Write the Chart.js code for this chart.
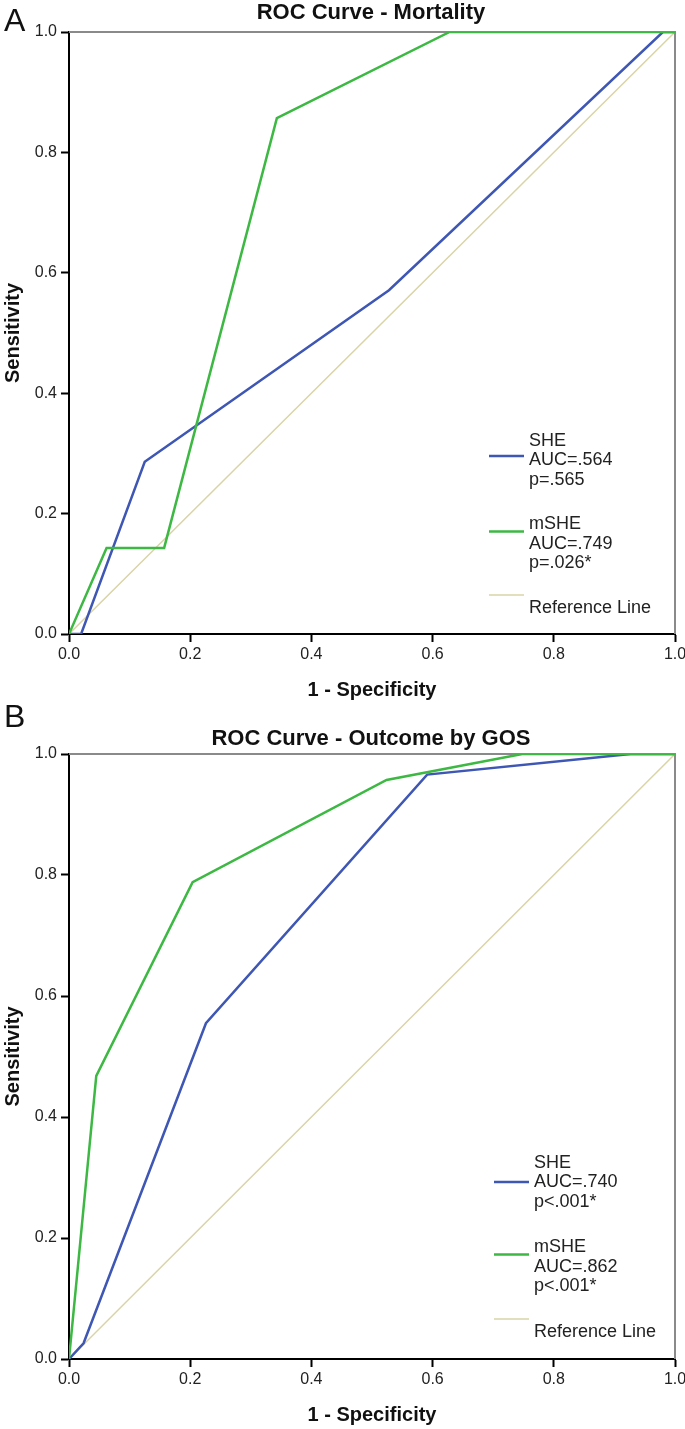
<!DOCTYPE html>
<html>
<head>
<meta charset="utf-8">
<script src="https://cdn.jsdelivr.net/npm/chart.js@4"></script>
<style>
  body { margin: 0; background: #fff; font-family: "Liberation Sans", Arial, sans-serif; }
  .panel { position: absolute; left: 0; width: 685px; }
  .letter { position: absolute; left: 4px; font-size: 32px; line-height: 32px; color: #111; }
  .title { position: absolute; left: 0; width: 742px; text-align: center; font-weight: bold; font-size: 22px; line-height: 22px; color: #111; }
</style>
</head>
<body>
<div class="panel" id="panelA" style="top:0;height:712px">
  <canvas id="chartA" width="685" height="712"></canvas>
  <div class="letter" style="top:4px">A</div>
  <div class="title" style="top:1px">ROC Curve - Mortality</div>
</div>
<div class="panel" id="panelB" style="top:712px;height:717px">
  <canvas id="chartB" width="685" height="717"></canvas>
  <div class="letter" style="top:-12px">B</div>
  <div class="title" style="top:15px">ROC Curve - Outcome by GOS</div>
</div>
<script>
// --- data ---
const tickVals = [0, 0.2, 0.4, 0.6, 0.8, 1.0];
const refLine = [0, 1];

// A: mortality
const fprA_she = [0, 0.02, 0.125, 0.528, 0.98, 1];
const tprA_she = [0, 0, 0.286, 0.571, 1, 1];
const fprA_mshe = [0, 0.062, 0.157, 0.343, 0.628, 1];
const tprA_mshe = [0, 0.143, 0.143, 0.857, 1, 1];
const labelsA = [['SHE', 'AUC=.564', 'p=.565'], ['mSHE', 'AUC=.749', 'p=.026*'], ['Reference Line']];

// B: outcome by GOS
const fprB_she = [0, 0.024, 0.226, 0.591, 0.927, 1];
const tprB_she = [0, 0.026, 0.555, 0.966, 1, 1];
const fprB_mshe = [0, 0.045, 0.204, 0.524, 0.748, 1];
const tprB_mshe = [0, 0.468, 0.788, 0.957, 1, 1];
const labelsB = [['SHE', 'AUC=.740', 'p<.001*'], ['mSHE', 'AUC=.862', 'p<.001*'], ['Reference Line']];

const BLUE = '#3e56b4';
const GREEN = '#3cb843';
const REF = '#d9d4a6';
const FONT = '"Liberation Sans", Arial, sans-serif';

const pts = (xs, ys) => xs.map((x, i) => ({ x: x, y: ys[i] }));

// frame on top/right + legend inside the plot
const panelDeco = {
    id: 'panelDeco',
    beforeDatasetsDraw(chart) {
        const { ctx, chartArea: a } = chart;
        ctx.save();
        ctx.strokeStyle = '#8a8a8a';
        ctx.lineWidth = 2;
        ctx.beginPath();
        ctx.moveTo(a.left, a.top);
        ctx.lineTo(a.right, a.top);
        ctx.lineTo(a.right, a.bottom);
        ctx.stroke();
        ctx.restore();
    },
    afterDraw(chart, args, opts) {
        const { ctx, chartArea: a } = chart;
        const lineH = 19.5;
        ctx.save();
        ctx.font = '18px ' + FONT;
        ctx.fillStyle = '#222';
        ctx.textBaseline = 'middle';
        chart.data.datasets.forEach((ds, i) => {
            const y0 = a.bottom - opts.top + i * opts.step;
            const lines = Array.isArray(ds.label) ? ds.label : [ds.label];
            lines.forEach((t, j) => ctx.fillText(t, opts.textX, y0 + j * lineH));
            const sy = y0 + opts.markerOffsets[i];
            ctx.strokeStyle = ds.borderColor;
            ctx.lineWidth = ds.borderWidth;
            ctx.beginPath();
            ctx.moveTo(opts.textX - 40, sy);
            ctx.lineTo(opts.textX - 5, sy);
            ctx.stroke();
        });
        ctx.restore();
    }
};

function makeChart(id, she, mshe, labels, lay) {
    return new Chart(document.getElementById(id), {
        type: 'line',
        data: {
            datasets: [
                { label: labels[0], data: she, borderColor: BLUE, borderWidth: 2.5, order: 1 },
                { label: labels[1], data: mshe, borderColor: GREEN, borderWidth: 2.5, order: 0 },
                { label: labels[2], data: pts(refLine, refLine), borderColor: REF, borderWidth: 1.5, order: 2 }
            ]
        },
        options: {
            responsive: false,
            animation: false,
            events: [],
            elements: { point: { radius: 0 }, line: { tension: 0 } },
            layout: { padding: { top: lay.top, right: 10, left: 0, bottom: 0 } },
            plugins: {
                legend: { display: false },
                tooltip: { enabled: false },
                panelDeco: lay.legend
            },
            scales: {
                x: {
                    type: 'linear', min: 0, max: 1,
                    afterBuildTicks: s => { s.ticks = tickVals.map(v => ({ value: v })); },
                    afterFit: s => { s.height = lay.xHeight; s.paddingRight = 0; s.paddingLeft = 0; },
                    border: { color: '#000', width: 2 },
                    grid: { drawOnChartArea: false, tickLength: 8, tickColor: '#000', tickWidth: 2 },
                    ticks: { color: '#222', padding: 3, font: { family: FONT, size: 16 }, callback: v => v.toFixed(1) },
                    title: { display: true, text: '1 - Specificity', color: '#111', padding: { bottom: lay.xTitlePad }, font: { family: FONT, size: 20, weight: 'bold' } }
                },
                y: {
                    type: 'linear', min: 0, max: 1,
                    afterBuildTicks: s => { s.ticks = tickVals.map(v => ({ value: v })); },
                    afterFit: s => { s.width = 69; },
                    border: { color: '#000', width: 2 },
                    grid: { drawOnChartArea: false, tickLength: 8, tickColor: '#000', tickWidth: 2 },
                    ticks: { color: '#222', padding: 4, font: { family: FONT, size: 16 }, callback: v => v.toFixed(1) },
                    title: { display: true, text: 'Sensitivity', color: '#111', padding: { top: 1 }, font: { family: FONT, size: 20, weight: 'bold' } }
                }
            }
        },
        plugins: [panelDeco]
    });
}

makeChart('chartA', pts(fprA_she, tprA_she), pts(fprA_mshe, tprA_mshe), labelsA, {
    top: 32, xHeight: 78, xTitlePad: 10,
    legend: { top: 193, step: 83.5, textX: 529, markerOffsets: [15, 7, -13] }
});
makeChart('chartB', pts(fprB_she, tprB_she), pts(fprB_mshe, tprB_mshe), labelsB, {
    top: 42, xHeight: 70, xTitlePad: 2,
    legend: { top: 196, step: 84.5, textX: 534, markerOffsets: [19, 7, -13] }
});
</script>
</body>
</html>
